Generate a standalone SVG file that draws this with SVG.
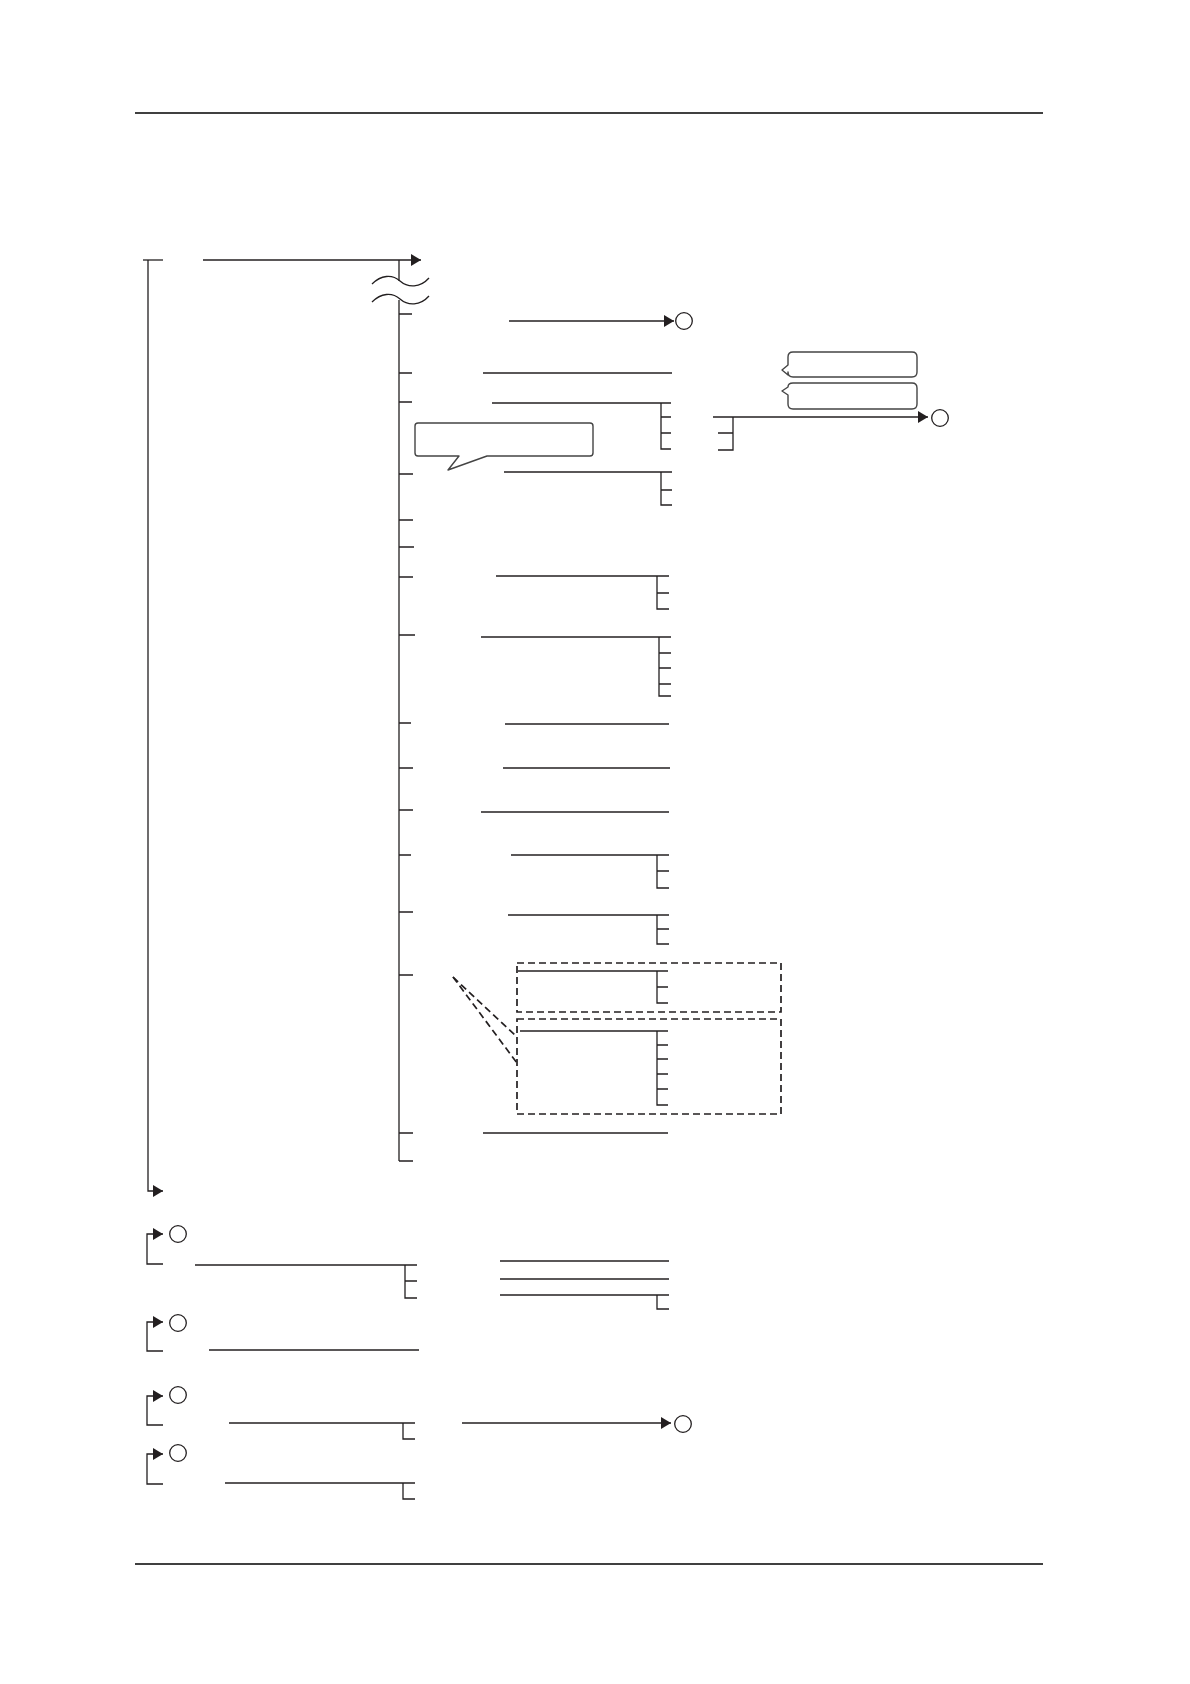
<svg xmlns="http://www.w3.org/2000/svg" width="1190" height="1684" viewBox="0 0 1190 1684">
<defs>
<style>
.l{stroke:#231f20;stroke-width:1.3;fill:none}
.p{stroke:#000;stroke-width:1.4;fill:none}
.d{stroke:#231f20;stroke-width:1.7;fill:none;stroke-dasharray:7 4}
.c{stroke:#231f20;stroke-width:1.3;fill:#fff}
.b{stroke:#444;stroke-width:1.4;fill:#fff;stroke-linejoin:round}
</style>
<marker id="ah" markerUnits="userSpaceOnUse" markerWidth="12" markerHeight="13" refX="10" refY="6" orient="auto">
<path d="M0,0 L10,6 L0,12 z" fill="#231f20"/>
</marker>
</defs>
<rect width="1190" height="1684" fill="#fff"/>
<g id="page">
<line class="p" x1="135" y1="113" x2="1043" y2="113"/>
<line class="p" x1="135" y1="1564" x2="1043" y2="1564"/>
</g>
<g id="connectors">
<line class="l" x1="143" y1="260" x2="163" y2="260"/>
<path class="l" d="M148,260 V1191 H163" marker-end="url(#ah)"/>
<line class="l" x1="203" y1="260" x2="421" y2="260" marker-end="url(#ah)"/>
<line class="l" x1="399" y1="260" x2="399" y2="281"/>
<path class="l" d="M372,284 C381,275 392,274 400,281 C408,288 420,288 429,278"/>
<path class="l" d="M372,302 C381,293 392,292 400,299 C408,306 420,306 429,296"/>
<line class="l" x1="399" y1="300" x2="399" y2="1161"/>
<path class="l" d="M399,314 H412 M399,373 H412 M399,402 H412 M399,474 H413 M399,520 H413 M399,547 H414 M399,577 H413 M399,635 H415 M399,723 H411 M399,768 H413 M399,810 H413 M399,855 H411 M399,912 H413 M399,975 H413 M399,1133 H413 M399,1161 H413"/>
</g>
<g id="branch1">
<line class="l" x1="509" y1="321" x2="674" y2="321" marker-end="url(#ah)"/>
<circle class="c" cx="684" cy="321" r="8.3"/>
</g>
<g id="branch2"><line class="l" x1="483" y1="373" x2="672" y2="373"/></g>
<g id="branch3">
<line class="l" x1="492" y1="403" x2="671" y2="403"/>
<path class="l" d="M661,403 V449 H671 M661,417 H671 M661,433 H671"/>
<line class="l" x1="713" y1="417" x2="928" y2="417" marker-end="url(#ah)"/>
<path class="l" d="M733,417 V450 H718 M733,433 H718"/>
<circle class="c" cx="940" cy="418" r="8.3"/>
</g>
<g id="callout-main">
<path class="b" d="M418,423 H590 Q593,423 593,426 V453 Q593,456 590,456 H487 L448,470 L459,456 H418 Q415,456 415,453 V426 Q415,423 418,423 Z"/>
</g>
<g id="bubble1">
<path class="b" d="M793,352 H912 Q917,352 917,357 V372 Q917,377 912,377 H793 Q788,377 788,372 V375 L782,370 L788,365 V357 Q788,352 793,352 Z"/>
</g>
<g id="bubble2">
<path class="b" d="M793,383 H912 Q917,383 917,388 V404 Q917,409 912,409 H793 Q788,409 788,404 V395 L782,391 L788,387 Q788,383 793,383 Z"/>
</g>
<g id="branch4">
<line class="l" x1="504" y1="472" x2="672" y2="472"/>
<path class="l" d="M661,472 V505 H672 M661,490 H672"/>
</g>
<g id="branch7">
<line class="l" x1="496" y1="576" x2="669" y2="576"/>
<path class="l" d="M657,576 V609 H669 M657,593 H669"/>
</g>
<g id="branch8">
<line class="l" x1="481" y1="637" x2="671" y2="637"/>
<path class="l" d="M659,637 V696 H671 M659,653 H671 M659,668 H671 M659,684 H671"/>
</g>
<g id="branch9"><line class="l" x1="505" y1="724" x2="669" y2="724"/></g>
<g id="branch10"><line class="l" x1="503" y1="768" x2="670" y2="768"/></g>
<g id="branch11"><line class="l" x1="481" y1="812" x2="669" y2="812"/></g>
<g id="branch12">
<line class="l" x1="511" y1="855" x2="669" y2="855"/>
<path class="l" d="M657,855 V888 H669 M657,871 H669"/>
</g>
<g id="branch13">
<line class="l" x1="508" y1="915" x2="669" y2="915"/>
<path class="l" d="M657,915 V944 H669 M657,929 H669"/>
</g>
<g id="branch14">
<line class="d" x1="453" y1="977" x2="517" y2="1037"/>
<line class="d" x1="453" y1="977" x2="517" y2="1063"/>
<rect class="d" x="517" y="963" width="264" height="49"/>
<rect class="d" x="517" y="1019" width="264" height="95"/>
<line class="l" x1="518" y1="971" x2="668" y2="971"/>
<path class="l" d="M657,971 V1003 H668 M657,987 H668"/>
<line class="l" x1="520" y1="1031" x2="668" y2="1031"/>
<path class="l" d="M657,1031 V1105 H668 M657,1045 H668 M657,1059 H668 M657,1074 H668 M657,1089 H668"/>
</g>
<g id="branch15"><line class="l" x1="483" y1="1133" x2="668" y2="1133"/></g>
<g id="group1">
<path class="l" d="M163,1264 H147 V1234 H163" marker-end="url(#ah)"/>
<circle class="c" cx="178" cy="1234" r="8.3"/>
<line class="l" x1="195" y1="1265" x2="417" y2="1265"/>
<path class="l" d="M405,1265 V1298 H417 M405,1281 H417"/>
<line class="l" x1="500" y1="1261" x2="669" y2="1261"/>
<line class="l" x1="500" y1="1279" x2="669" y2="1279"/>
<line class="l" x1="500" y1="1295" x2="669" y2="1295"/>
<path class="l" d="M657,1295 V1309 H669"/>
</g>
<g id="group2">
<path class="l" d="M163,1351 H147 V1322 H163" marker-end="url(#ah)"/>
<circle class="c" cx="178" cy="1323" r="8.3"/>
<line class="l" x1="209" y1="1350" x2="419" y2="1350"/>
</g>
<g id="group3">
<path class="l" d="M163,1425 H147 V1396 H163" marker-end="url(#ah)"/>
<circle class="c" cx="178" cy="1395" r="8.3"/>
<line class="l" x1="229" y1="1423" x2="415" y2="1423"/>
<path class="l" d="M403,1423 V1439 H415"/>
<line class="l" x1="462" y1="1423" x2="671" y2="1423" marker-end="url(#ah)"/>
<circle class="c" cx="683" cy="1424" r="8.3"/>
</g>
<g id="group4">
<path class="l" d="M163,1484 H147 V1454 H163" marker-end="url(#ah)"/>
<circle class="c" cx="178" cy="1453" r="8.3"/>
<line class="l" x1="225" y1="1483" x2="415" y2="1483"/>
<path class="l" d="M403,1483 V1499 H415"/>
</g>
</svg>
